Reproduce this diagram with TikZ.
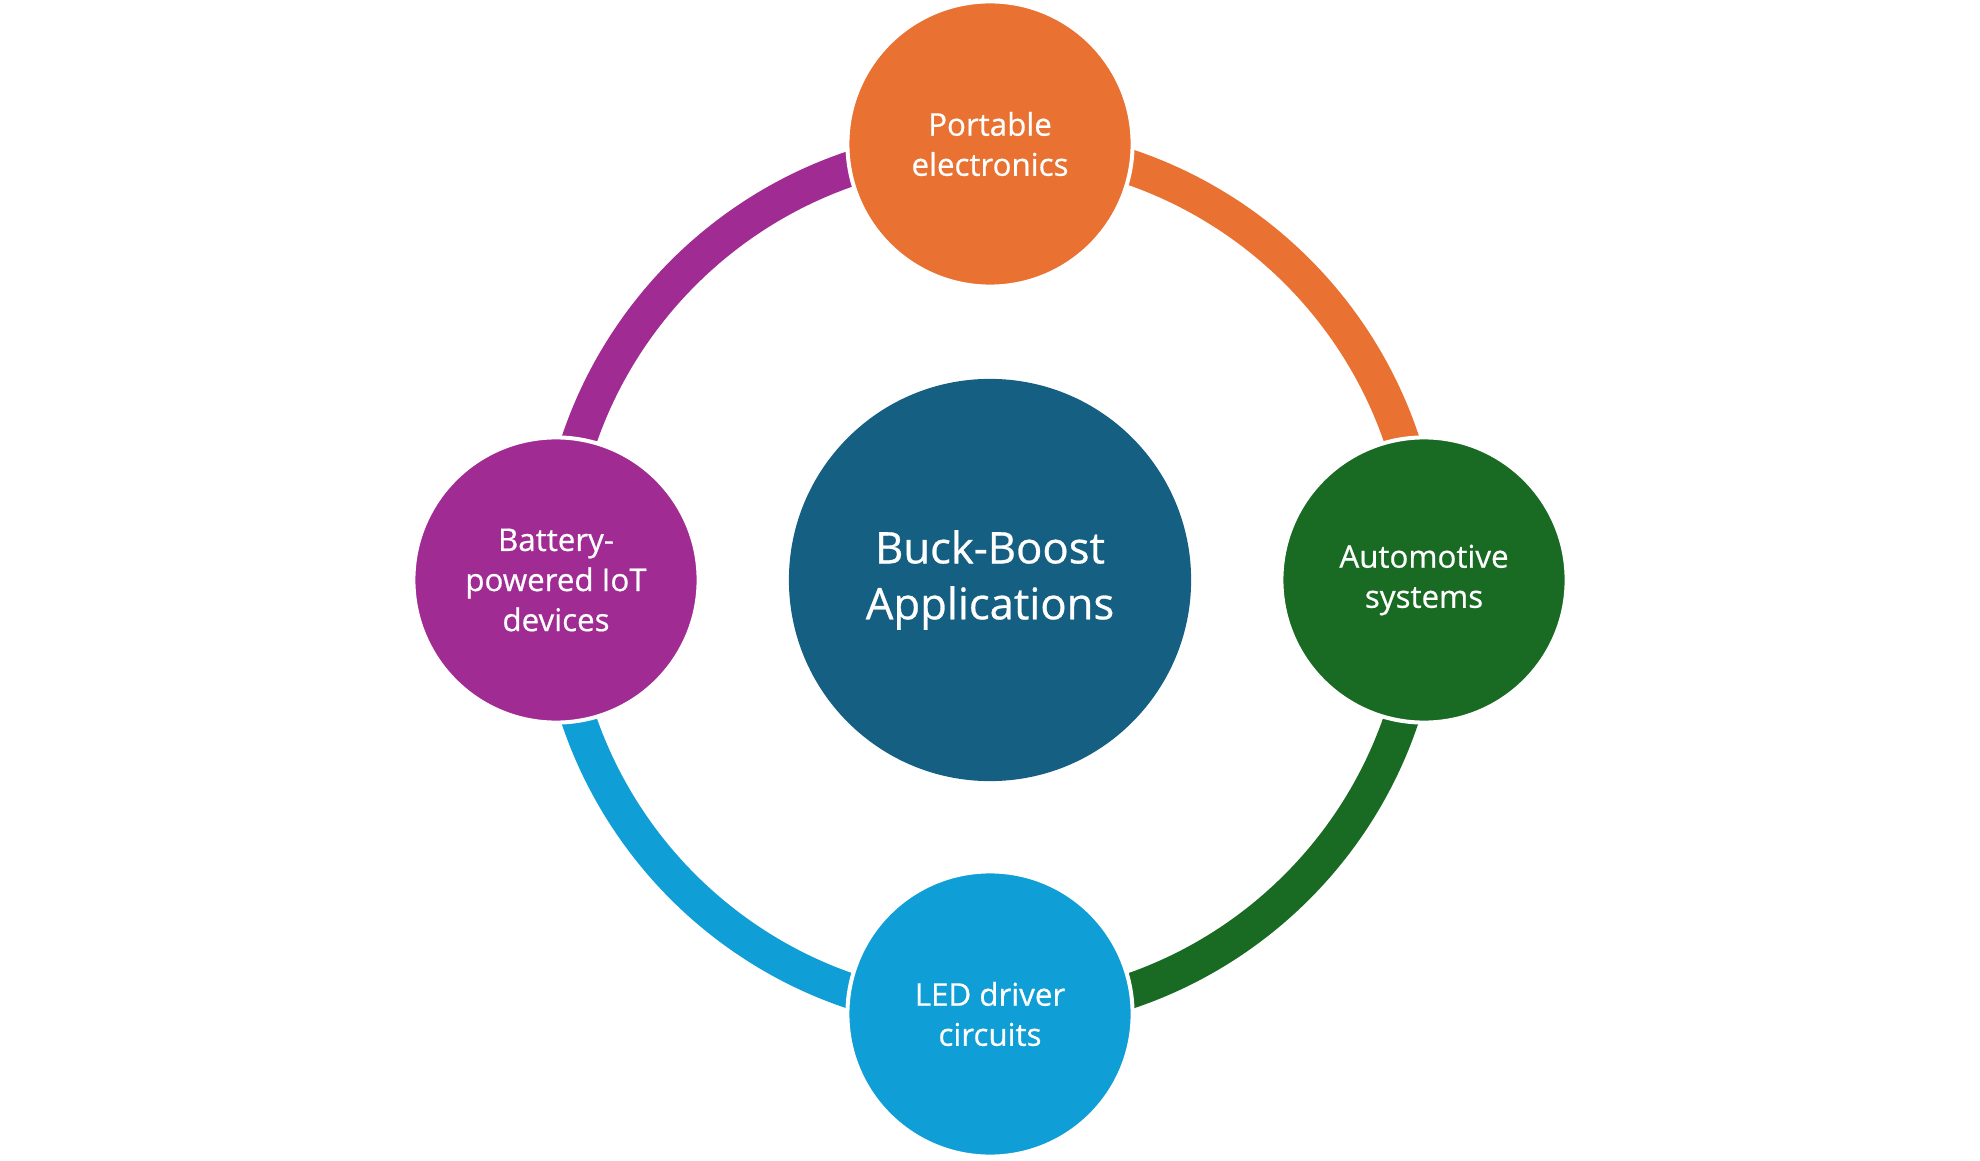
\documentclass[tikz,border=0pt]{standalone}
\usepackage{fontspec}
\setmainfont{Open Sans}[FakeBold=0.6]
\usepackage{tikz}
\usetikzlibrary{positioning, backgrounds}
\definecolor{hubblue}{RGB}{21,96,130}
\definecolor{apporange}{RGB}{233,113,50}
\definecolor{appgreen}{RGB}{25,107,36}
\definecolor{appcyan}{RGB}{15,158,213}
\definecolor{apppurple}{RGB}{160,43,147}

\begin{document}
\begin{tikzpicture}[x=0.01cm, y=0.01cm,
    app/.style={circle, minimum size=2.85cm, inner sep=0pt, draw=white,
                line width=0.04cm, text=white, align=center,
                font=\fontsize{8.9}{11.4}\selectfont},
    ring/.style={line width=0.35cm}]
  \useasboundingbox (0,0) rectangle (1980,1160);

  % the hub
  \node[circle, fill=hubblue, minimum size=4.02cm, inner sep=0pt, text=white,
        align=center, font=\fontsize{12.4}{15.9}\selectfont] (hub) at (990,580)
       {Buck-Boost\\Applications};

  % the four applications round it
  \node[app, fill=apporange] (portable) at (990,1016) {Portable\\electronics};
  \node[app, fill=appgreen] (auto) at (1424,580) {Automotive\\systems};
  \node[app, fill=appcyan] (led) at (990,146) {LED driver\\circuits};
  \node[app, fill=apppurple] (iot) at (556,580) {Battery-\\powered IoT\\devices};

  % the ring, one arc per application
  \begin{scope}[on background layer]
    \draw[ring, apporange] (portable.center) arc[start angle=90, end angle=0, radius=4.34cm];
    \draw[ring, appgreen] (auto.center) arc[start angle=0, end angle=-90, radius=4.34cm];
    \draw[ring, appcyan] (led.center) arc[start angle=-90, end angle=-180, radius=4.34cm];
    \draw[ring, apppurple] (iot.center) arc[start angle=180, end angle=90, radius=4.34cm];
  \end{scope}
\end{tikzpicture}
\end{document}
